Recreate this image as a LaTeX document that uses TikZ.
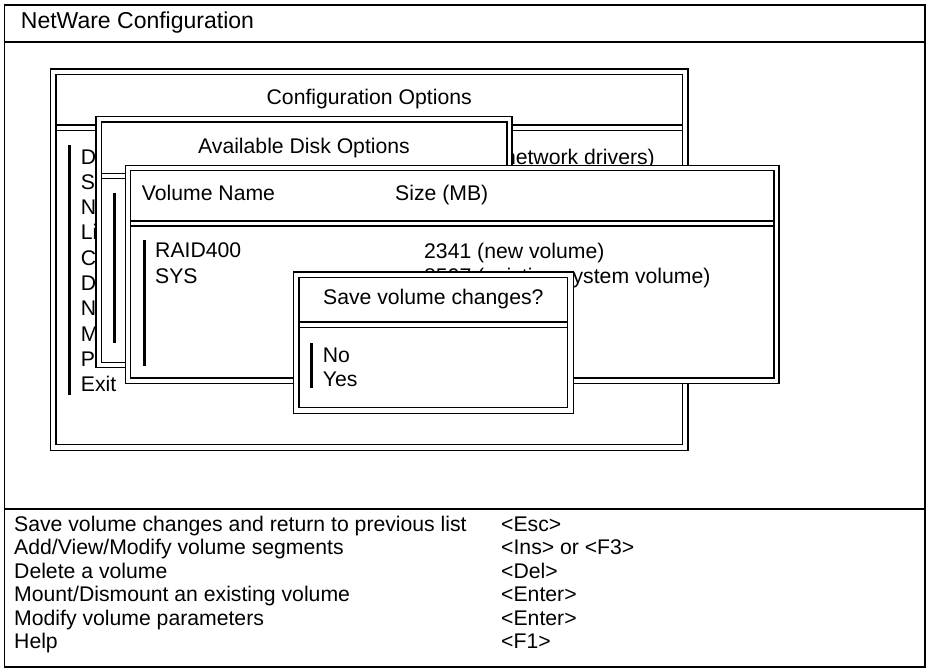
\documentclass[tikz,border=0pt]{standalone}
\usepackage{fontspec}
\setmainfont{Liberation Sans}
\newcommand\mytxt{\fontsize{21.2}{25}\selectfont}
\newcommand\mytitle{\fontsize{23}{27}\selectfont}
\tikzset{
  win/.style={draw=black, line width=1.4pt, fill=white},
  wline/.style={draw=black, line width=1.4pt},
  frame/.style={draw=black, line width=1.8pt},
  txt/.style={anchor=base west, inner sep=0pt, font=\mytxt},
  txtc/.style={anchor=base, inner sep=0pt, font=\mytxt},
  txte/.style={anchor=base east, inner sep=0pt, font=\mytxt},
  selbar/.style={fill=black}
}
\begin{document}
\begin{tikzpicture}[x=1pt,y=-1pt]
\useasboundingbox (0,0) rectangle (930,672);
% outer frame
\draw[frame] (4.5,4.7) rectangle (925,667);
\draw[frame] (4.5,42) -- (925,42);
\draw[frame] (4.5,509.3) -- (925,509.3);
\node[txt, font=\mytitle] (title) at (20.7,28.5) {NetWare Configuration};
% bottom help
\node[txt] (h0) at (14,531) {Save volume changes and return to previous list};
\node[txt] (h1) at (14,554.5) {Add/View/Modify volume segments};
\node[txt] (h2) at (14,578) {Delete a volume};
\node[txt] (h3) at (14,601.5) {Mount/Dismount an existing volume};
\node[txt] (h4) at (14,625) {Modify volume parameters};
\node[txt] (h5) at (14,648.5) {Help};
\node[txt] (k0) at (501,531) {<Esc>};
\node[txt] (k1) at (501,554.5) {<Ins> or <F3>};
\node[txt] (k2) at (501,578) {<Del>};
\node[txt] (k3) at (501,601.5) {<Enter>};
\node[txt] (k4) at (501,625) {<Enter>};
\node[txt] (k5) at (501,648.5) {<F1>};
% configuration options window
\draw[win] (50.3,69) rectangle (688,450.3);
\draw[wline] (56,74.7) rectangle (682.7,444.3);
\draw[wline] (56,125) -- (682.7,125) (56,130.5) -- (682.7,130.5);
\node[txtc] (cfgt) at (369.2,104.3) {Configuration Options};
\fill[selbar] (67.8,145) rectangle (70.8,395);
\foreach \l/\i in {D/0,S/1,N/2,Li/3,C/4,D/5,N/6,M/7,P/8,Exit/9}{
  \node[txt] (m\i) at (80.7,164+25.3*\i) {\l};
}
\node[txte] (netdrv) at (655,164) {network drivers)};
% available disk options window
\draw[win] (96,116.7) rectangle (512,367.3);
\draw[wline] (101.5,122) rectangle (507,362.3);
\draw[wline] (101.5,173.3) -- (507,173.3) (101.5,178.3) -- (507,178.3);
\node[txtc] (diskt) at (304,153.3) {Available Disk Options};
\fill[selbar] (112.5,193.3) rectangle (115.5,342.7);
% volume window
\draw[win] (125.7,165.7) rectangle (779,383.3);
\draw[wline] (130.7,170.7) rectangle (774,378);
\draw[wline] (130.7,221) -- (774,221) (130.7,226) -- (774,226);
\node[txt] (vname) at (141.7,200.7) {Volume Name};
\node[txt] (vsize) at (395,200.7) {Size (MB)};
\fill[selbar] (142.5,240) rectangle (145.5,365.7);
\node[txt] (raid) at (155,257) {RAID400};
\node[txt] (sys) at (155,283.3) {SYS};
\node[txt] (raidsz) at (424,258.3) {2341 (new volume)};
\node[txt] (syssz) at (424,283.3) {8597 (existing system volume)};
% dialog
\draw[win] (293.3,272) rectangle (573.3,413.3);
\draw[wline] (299,277.3) rectangle (567.7,407.3);
\draw[wline] (299,322) -- (567.7,322) (299,327.7) -- (567.7,327.7);
\node[txtc] (dlgt) at (433.3,304) {Save volume changes?};
\fill[selbar] (309.5,342.7) rectangle (312.5,388.3);
\node[txt] (no) at (322.7,362.7) {No};
\node[txt] (yes) at (322.7,386.7) {Yes};
\end{tikzpicture}
\end{document}
